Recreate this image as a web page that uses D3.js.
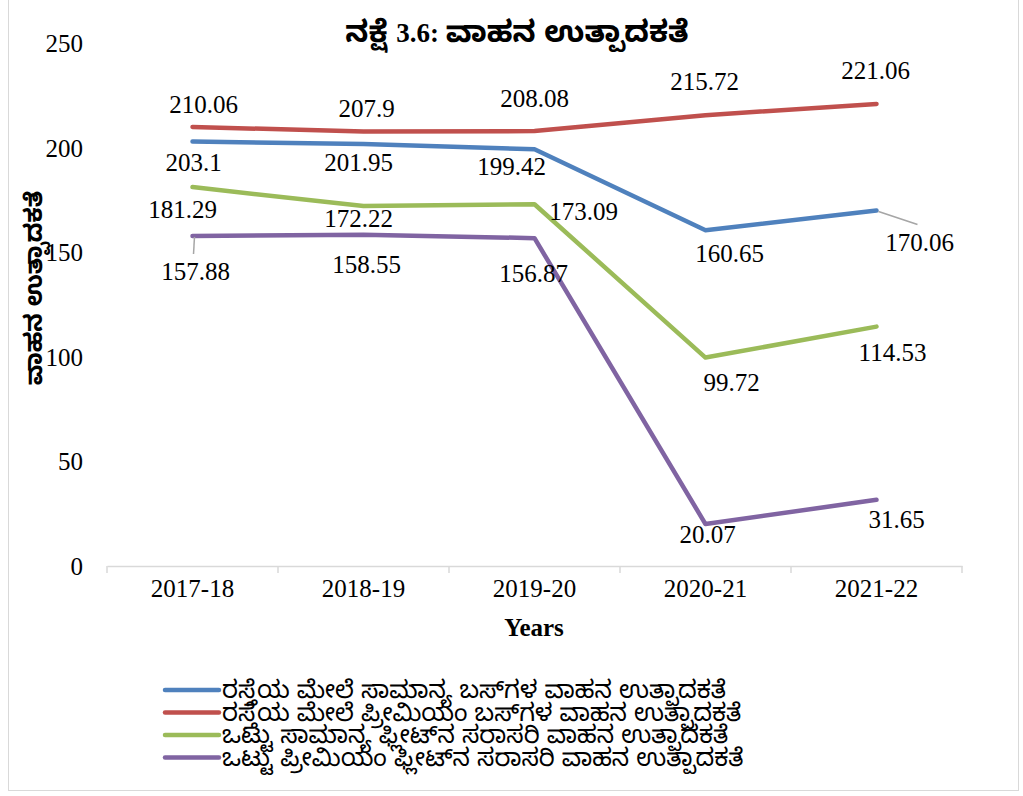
<!DOCTYPE html>
<html>
<head>
<meta charset="utf-8">
<script src="https://cdn.jsdelivr.net/npm/d3@7"></script>
<style>
  body { margin: 0; background: #fff; }
  text { font-family: "Liberation Serif", "Times New Roman", serif; }
  .kn { font-family: "Noto Sans Kannada", "Noto Serif Kannada", "Tunga", "Noto Sans", sans-serif; }
</style>
</head>
<body>
<div id="chart"></div>
<script>
// loading data
var years = ["2017-18", "2018-19", "2019-20", "2020-21", "2021-22"];
var generalBuses = [203.1, 201.95, 199.42, 160.65, 170.06];
var premiumBuses = [210.06, 207.9, 208.08, 215.72, 221.06];
var generalFleet = [181.29, 172.22, 173.09, 99.72, 114.53];
var premiumFleet = [157.88, 158.55, 156.87, 20.07, 31.65];
var yTicks = [0, 50, 100, 150, 200, 250];
var seriesNames = [
  "ರಸ್ತೆಯ ಮೇಲೆ ಸಾಮಾನ್ಯ ಬಸ್‌ಗಳ ವಾಹನ ಉತ್ಪಾದಕತೆ",
  "ರಸ್ತೆಯ ಮೇಲೆ ಪ್ರೀಮಿಯಂ ಬಸ್‌ಗಳ ವಾಹನ ಉತ್ಪಾದಕತೆ",
  "ಒಟ್ಟು ಸಾಮಾನ್ಯ ಫ್ಲೀಟ್‌ನ ಸರಾಸರಿ ವಾಹನ ಉತ್ಪಾದಕತೆ",
  "ಒಟ್ಟು ಪ್ರೀಮಿಯಂ ಫ್ಲೀಟ್‌ನ ಸರಾಸರಿ ವಾಹನ ಉತ್ಪಾದಕತೆ"
];
var colors = ["#4f81bd", "#c0504d", "#9bbb59", "#8064a2"];

// label nudges (dx, dy) from each point, as placed in the original
var labelShift = [
  [[1, 29], [-5, 27], [-23, 26], [24, 32], [43, 40]],
  [[11, -14], [3, -14], [0, -24], [-1, -25], [-1, -25]],
  [[-10, 31], [-5, 21], [49, 16], [26, 33], [16, 34]],
  [[3, 44], [3, 38], [-1, 44], [2, 19], [20, 28]]
];

var allSeries = [generalBuses, premiumBuses, generalFleet, premiumFleet];

var W = 1023, H = 796;
var svg = d3.select("#chart").append("svg")
  .attr("width", W).attr("height", H);

// outer border
svg.append("rect")
  .attr("x", 8.5).attr("y", -1).attr("width", 1010).attr("height", 791.5)
  .attr("fill", "none").attr("stroke", "#d9d9d9");

// scales
var x = d3.scaleBand().domain(years).range([107, 962]);
var y = d3.scaleLinear().domain([0, 250]).range([566, 43.5]);

// title (Kannada part set larger so it matches the serif digits)
var title = svg.append("text")
  .attr("x", 517).attr("y", 42)
  .attr("text-anchor", "middle")
  .attr("font-weight", "bold");
title.append("tspan").attr("class", "kn").attr("font-size", "30px").text("ನಕ್ಷೆ ");
title.append("tspan").attr("font-size", "27px").text("3.6: ");
title.append("tspan").attr("class", "kn").attr("font-size", "30px").text("ವಾಹನ ಉತ್ಪಾದಕತೆ");

// y axis (labels only)
var yAxis = svg.append("g")
  .attr("transform", "translate(90,0)")
  .call(d3.axisLeft(y).tickValues(yTicks).tickSize(0).tickPadding(7));
yAxis.select(".domain").remove();
yAxis.selectAll("text")
  .attr("font-family", "Liberation Serif, serif")
  .attr("font-size", "25px").attr("fill", "#000");

svg.append("text")
  .attr("class", "kn")
  .attr("transform", "translate(42,288) rotate(-90)")
  .attr("text-anchor", "middle")
  .attr("font-size", "24px").attr("font-weight", "bold")
  .text("ವಾಹನ ಉತ್ಪಾದಕತೆ");

// x axis
var xAxis = svg.append("g")
  .attr("transform", "translate(0,566)")
  .call(d3.axisBottom(x).tickSize(0).tickPadding(13));
xAxis.select(".domain").attr("stroke", "#d9d9d9").attr("stroke-width", 1.5);
xAxis.selectAll("text")
  .attr("font-family", "Liberation Serif, serif")
  .attr("font-size", "25px").attr("fill", "#000");
// tick marks at band edges
var edges = years.map(function(d) { return x(d); }).concat([x.range()[1]]);
xAxis.selectAll(".edge").data(edges).enter().append("line")
  .attr("x1", function(d) { return d; }).attr("x2", function(d) { return d; })
  .attr("y1", 0).attr("y2", 7)
  .attr("stroke", "#d9d9d9").attr("stroke-width", 1.5);

svg.append("text")
  .attr("x", 534).attr("y", 636)
  .attr("text-anchor", "middle")
  .attr("font-size", "25px").attr("font-weight", "bold")
  .text("Years");

// lines
var line = d3.line()
  .x(function(d, i) { return x(years[i]) + x.bandwidth() / 2; })
  .y(function(d) { return y(d); });

allSeries.forEach(function(vals, s) {
  svg.append("path")
    .datum(vals)
    .attr("d", line)
    .attr("fill", "none")
    .attr("stroke", colors[s])
    .attr("stroke-width", 4.5)
    .attr("stroke-linejoin", "round")
    .attr("stroke-linecap", "round");
});

// leader lines for the two pushed labels
var leaders = [[0, 4], [3, 0]];
leaders.forEach(function(p) {
  var s = p[0], i = p[1];
  var px = x(years[i]) + x.bandwidth() / 2, py = y(allSeries[s][i]);
  var sh = labelShift[s][i];
  svg.append("line")
    .attr("x1", px + 2).attr("y1", py + 1)
    .attr("x2", px + sh[0] - 2).attr("y2", py + sh[1] - 26)
    .attr("stroke", "#a6a6a6").attr("stroke-width", 1.5);
});

// data labels
allSeries.forEach(function(vals, s) {
  svg.selectAll(".lab" + s).data(vals).enter().append("text")
    .attr("class", "lab" + s)
    .attr("x", function(d, i) { return x(years[i]) + x.bandwidth() / 2 + labelShift[s][i][0]; })
    .attr("y", function(d, i) { return y(d) + labelShift[s][i][1]; })
    .attr("text-anchor", "middle")
    .attr("font-size", "25px")
    .text(function(d) { return d; });
});

// legend
var legend = svg.append("g");
seriesNames.forEach(function(name, s) {
  var ly = 690 + s * 22.5;
  legend.append("line")
    .attr("x1", 165).attr("x2", 219).attr("y1", ly).attr("y2", ly)
    .attr("stroke", colors[s]).attr("stroke-width", 4.5)
    .attr("stroke-linecap", "round");
  legend.append("text")
    .attr("class", "kn")
    .attr("x", 222).attr("y", ly + 8)
    .attr("font-size", "24.5px")
    .text(name);
});
</script>
</body>
</html>
